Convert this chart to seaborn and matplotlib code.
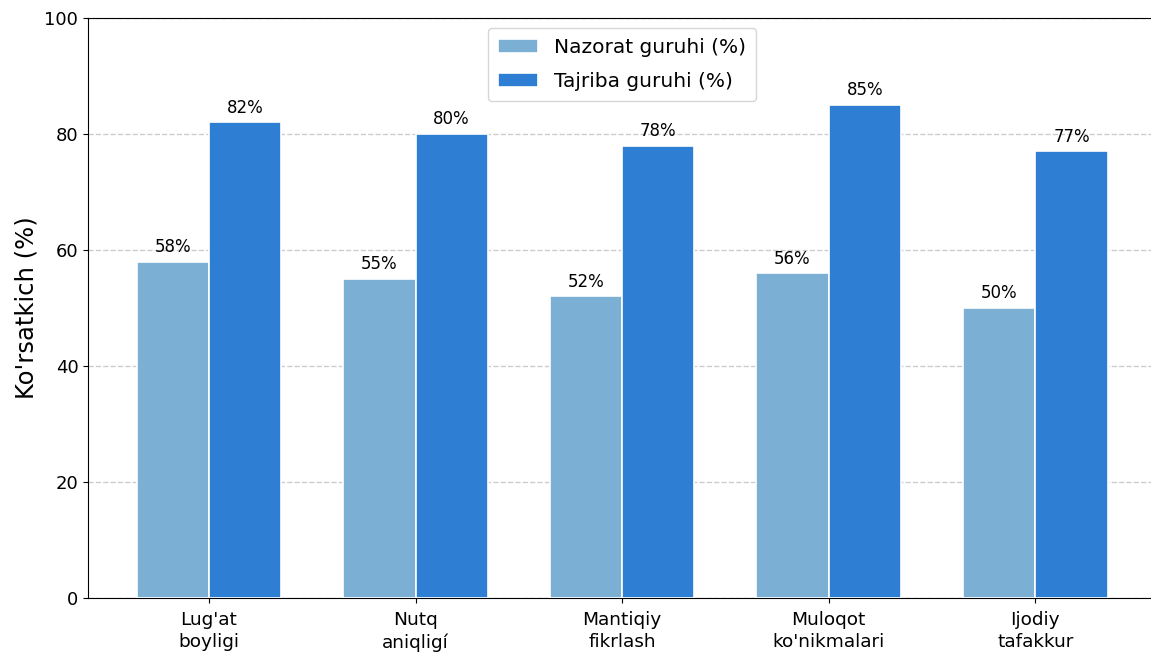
import matplotlib
matplotlib.use("Agg")
import matplotlib.pyplot as plt
import seaborn as sns
import pandas as pd

categories = ["Lug'at\nboyligi", "Nutq\naniqligí", "Mantiqiy\nfikrlash", "Muloqot\nko'nikmalari", "Ijodiy\ntafakkur"]
nazorat = [58, 55, 52, 56, 50]
tajriba = [82, 80, 78, 85, 77]
series_names = ["Nazorat guruhi (%)", "Tajriba guruhi (%)"]
colors = ["#7BAFD4", "#2E7ED3"]

df = pd.DataFrame({
    "cat": categories * 2,
    "val": nazorat + tajriba,
    "grp": [series_names[0]] * len(categories) + [series_names[1]] * len(categories),
})

plt.rcParams['font.family'] = ['DejaVu Sans']
fig = plt.figure(figsize=(11.51, 6.57), dpi=100)
ax = fig.add_axes([0.0765, 0.0898, 0.928, 0.8828])

sns.barplot(data=df, x="cat", y="val", hue="grp", palette=colors, width=0.7,
            edgecolor="white", linewidth=1.2, saturation=1, ax=ax, zorder=3)

for cont in ax.containers:
    ax.bar_label(cont, labels=[f"{int(round(v.get_height()))}%" for v in cont],
                 padding=4, fontsize=12)

ax.set_ylim(0, 100)
ax.set_xlim(-0.585, 4.585)
ax.set_xlabel("")
ax.set_ylabel("Ko'rsatkich (%)", fontsize=17.5)
ax.tick_params(axis='x', labelsize=13.3, pad=6)
ax.tick_params(axis='y', labelsize=13)
for lbl in ax.get_xticklabels():
    lbl.set_linespacing(1.3)
ax.yaxis.grid(True, linestyle='--', color='#cccccc', linewidth=1, zorder=0)
ax.set_axisbelow(True)
ax.legend(loc="upper center", fontsize=14.5, frameon=True, labelspacing=0.75,
          borderpad=0.5)

fig.savefig("out.png", dpi=100)
